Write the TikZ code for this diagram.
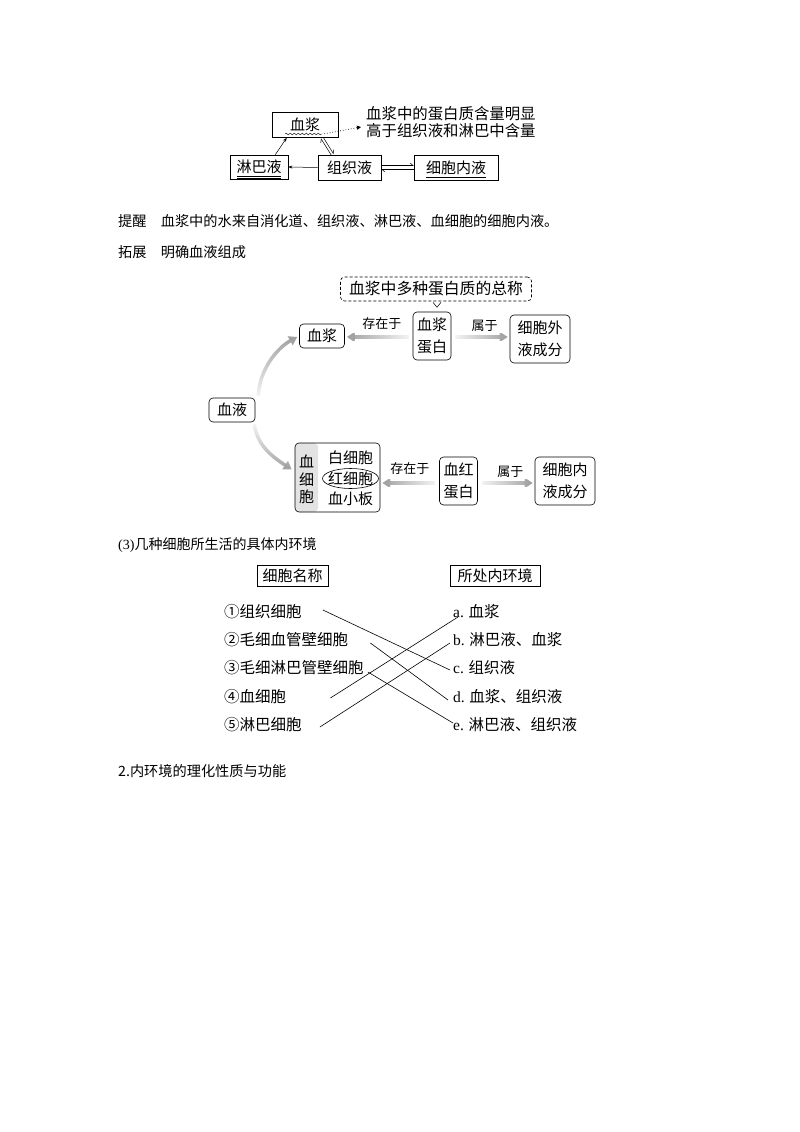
\documentclass[tikz,border=0pt]{standalone}
\usepackage{fontspec}
\setmainfont{Liberation Serif}
\newfontfamily\cjk{Noto Sans CJK SC}
\usetikzlibrary{arrows.meta,calc,positioning,decorations.pathmorphing,fadings}

\tikzfading[name=fadeL, left color=transparent!0, right color=transparent!90]
\tikzfading[name=fadeR, left color=transparent!90, right color=transparent!0]
\tikzfading[name=fadeU, top color=transparent!0, bottom color=transparent!90]
\tikzfading[name=fadeD, top color=transparent!90, bottom color=transparent!0]

\begin{document}
\begin{tikzpicture}[x=1pt,y=1pt,yscale=-1,
  every node/.style={inner sep=0pt, font=\cjk\fontsize{15}{17}\selectfont},
  sqbox/.style={draw, line width=0.6pt, minimum height=25pt},
  rbox/.style={draw, line width=0.6pt, rounded corners=4pt, align=center, font=\cjk\fontsize{15}{21.5}\selectfont},
  grayarr/.style={draw=gray!75, line width=3.5pt, -{Triangle[length=8pt,width=10pt]}},
  lbl/.style={font=\cjk\fontsize{13}{15}\selectfont},
  txt/.style={anchor=west, font=\cjk\fontsize{14.2}{16}\selectfont},
  item/.style={anchor=west, font=\cjk\fontsize{15.5}{17}\selectfont},
  thinarr/.style={line width=0.5pt, -{Stealth[length=4pt,width=3pt]}},
  harp/.style={line width=0.5pt, -{Straight Barb[left,length=3pt,width=5pt]}}
]
\useasboundingbox (0,0) rectangle (800,1132);

% relation of the three fluids
\node[sqbox, minimum width=66pt] (xj) at (305,125) {血浆};
\node[sqbox, minimum width=58pt, minimum height=24pt] (lb) at (259,167) {淋巴液};
\node[sqbox, minimum width=63pt] (zz) at (349.5,167.5) {组织液};
\node[sqbox, minimum width=84pt] (xn) at (456,167.5) {细胞内液};
\node[anchor=west, align=left, font=\cjk\fontsize{15.4}{17}\selectfont] (note) at (366,122) {血浆中的蛋白质含量明显\\高于组织液和淋巴中含量};

\draw[line width=0.4pt, decorate, decoration={snake, amplitude=0.8pt, segment length=4pt}] (285,134) -- (322,134);
\draw[line width=0.4pt] (237,176) -- (281,176) (237,178) -- (281,178);
\draw[line width=0.4pt] (426,177.5) -- (486,177.5);

\draw[dotted, line width=0.7pt, -{Triangle[length=4pt,width=4pt]}] ($(xj.south east)+(-14,-4)$) -- ($(note.west)+(-5,5)$);
\draw[thinarr] ($(lb.north east)+(-13,0)$) -- ($(xj.south west)+(15,0)$);
\draw[thinarr] (zz.west) -- (lb.east);
\draw[harp] ($(xj.south)+(18.1,-0.7)$) -- ($(zz.north)+(-15.9,-0.7)$);
\draw[harp] ($(zz.north)+(-18.1,0.7)$) -- ($(xj.south)+(15.9,0.7)$);
\draw[harp] ($(zz.east)+(0,-2)$) -- ($(xn.west)+(0,-2)$);
\draw[harp] ($(xn.west)+(0,2)$) -- ($(zz.east)+(0,2)$);

\node[txt] (tx) at (118,221) {提醒\hspace{1em}血浆中的水来自消化道、组织液、淋巴液、血细胞的细胞内液。};
\node[txt] (tz) at (118,252) {拓展\hspace{1em}明确血液组成};

% blood
\node[rbox, dash pattern=on 3pt off 2pt, minimum width=191pt, minimum height=24pt, font=\cjk\fontsize{15.8}{18}\selectfont] (zc) at (436,289) {血浆中多种蛋白质的总称};
\draw[line width=0.5pt] ($(zc.south)+(-3,1)$) -- ($(zc.south)+(1,6)$) -- ($(zc.south)+(5,1)$);

\node[rbox, minimum width=45pt, minimum height=24pt] (xj2) at (322,336) {血浆};
\node[rbox, minimum width=38pt, minimum height=48pt] (xjdb) at (432,336) {血浆\\蛋白};
\node[rbox, minimum width=60pt, minimum height=48pt] (wycf) at (540,339) {细胞外\\液成分};
\node[rbox, minimum width=46pt, minimum height=24pt] (xy) at (232,410) {血液};
\node[rbox, minimum width=85pt, minimum height=69pt,
  path picture={\fill[gray!22] (path picture bounding box.south west) rectangle ([xshift=23pt]path picture bounding box.north west);}] (xxb) at (337.5,477.5) {};
\node[font=\cjk\fontsize{15}{17.5}\selectfont, align=center] (xxbl) at ($(xxb.west)+(12,2)$) {血\\细\\胞};
\node[font=\cjk\fontsize{15}{20.5}\selectfont, align=center] (xxbr) at ($(xxb.center)+(13,1)$) {白细胞\\红细胞\\血小板};
\draw[line width=0.6pt] (xxbr.center) ellipse (28pt and 10pt);
\node[rbox, minimum width=38pt, minimum height=48pt] (xhdb) at (458.5,481) {血红\\蛋白};
\node[rbox, minimum width=60pt, minimum height=48pt] (nycf) at (565,481) {细胞内\\液成分};

\draw[grayarr, path fading=fadeL] ($(xjdb.west)+(-4,1)$) -- ($(xj2.east)+(2,1)$);
\draw[grayarr, path fading=fadeR] ($(xjdb.east)+(4,1)$) -- ($(xjdb.east -| wycf.west)+(-2,1)$);
\draw[grayarr, path fading=fadeL] ($(xhdb.west)+(-4,2)$) -- ($(xhdb.west -| xxb.east)+(2,2)$);
\draw[grayarr, path fading=fadeR] ($(xhdb.east)+(4,2)$) -- ($(xhdb.east -| nycf.west)+(-2,2)$);
\draw[grayarr, path fading=fadeU] ($(xy.north east)+(3,-2)$) .. controls +(1,-26) and +(-20,11) .. ($(xj2.west)+(-2,1)$);
\draw[grayarr, path fading=fadeD] ($(xy.south east)+(-1,2)$) .. controls +(3,22) and +(-18,-12) .. ($(xxb.west)+(-3,-8)$);

\node[lbl] (cz1) at ($(xjdb.west)!0.5!(xj2.east)+(3,-12)$) {存在于};
\node[lbl] (sy1) at ($(xjdb.east)!0.5!(wycf.west)+(4,-12)$) {属于};
\node[lbl] (cz2) at ($(xhdb.west)!0.5!(xxb.east)+(0,-11)$) {存在于};
\node[lbl] (sy2) at ($(xhdb.east)!0.5!(nycf.west)+(4,-9)$) {属于};

% cells and their environment
\node[txt, font=\cjk\fontsize{14}{16}\selectfont] (s3) at (118,545) {{\rmfamily (3)}几种细胞所生活的具体内环境};
\node[sqbox, minimum width=71pt, minimum height=21pt] (mc) at (292.5,575.5) {细胞名称};
\node[sqbox, minimum width=90pt, minimum height=21pt] (hj) at (495,575.5) {所处内环境};

\node[item] (c1) at (224,612) {①组织细胞};
\node[item] (c2) at (224,640) {②毛细血管壁细胞};
\node[item] (c3) at (224,668) {③毛细淋巴管壁细胞};
\node[item] (c4) at (224,697) {④血细胞};
\node[item] (c5) at (224,725) {⑤淋巴细胞};
\node[item] (ra) at (453,612) {{\rmfamily a.} 血浆};
\node[item] (rb) at (453,640) {{\rmfamily b.} 淋巴液、血浆};
\node[item] (rc) at (453,668) {{\rmfamily c.} 组织液};
\node[item] (rd) at (453,697) {{\rmfamily d.} 血浆、组织液};
\node[item] (re) at (453,725) {{\rmfamily e.} 淋巴液、组织液};

\draw[line width=0.6pt] ($(c1.east)+(21,-2)$) -- ($(rc.west)+(-3,2)$);
\draw[line width=0.6pt] ($(c2.east)+(22,3)$) -- ($(rd.west)+(-5,3)$);
\draw[line width=0.6pt] ($(c3.east)+(4,4)$) -- ($(re.west)+(0,-2)$);
\draw[line width=0.6pt] ($(c4.east)+(44,1)$) -- ($(ra.west)+(5,5)$);
\draw[line width=0.6pt] ($(c5.east)+(18,2)$) -- ($(rb.west)+(-3,3)$);

\node[txt] (s2) at (118,771) {2.内环境的理化性质与功能};
\end{tikzpicture}
\end{document}
